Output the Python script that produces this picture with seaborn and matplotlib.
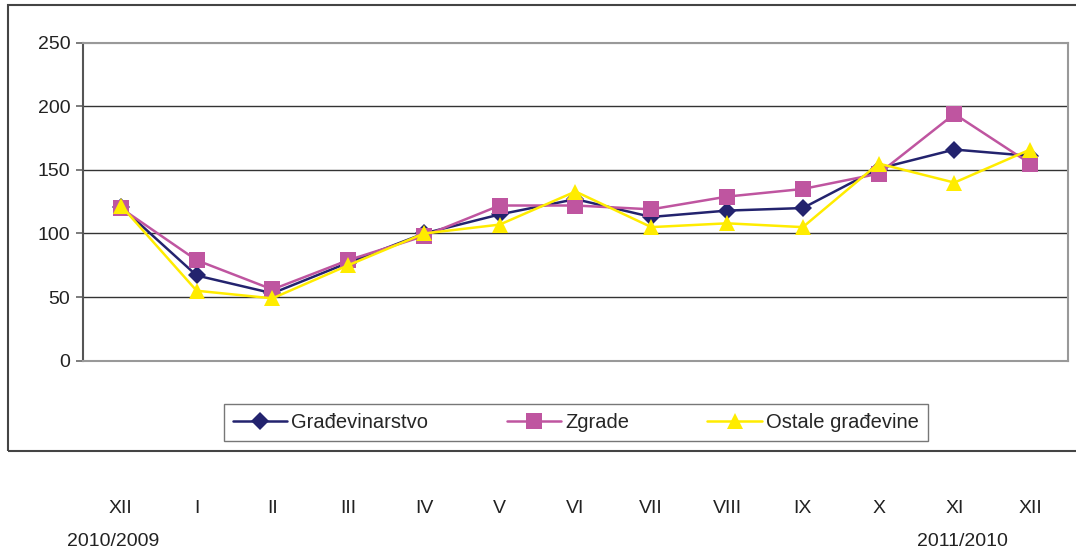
import pandas as pd
import matplotlib.pyplot as plt
from matplotlib.patches import Rectangle
from matplotlib.transforms import blended_transform_factory
import seaborn as sns

mjeseci = ['XII', 'I', 'II', 'III', 'IV', 'V', 'VI', 'VII', 'VIII', 'IX', 'X', 'XI', 'XII']
gradjevinarstvo = [121, 67, 53, 77, 100, 115, 127, 113, 118, 120, 151, 166, 161]
zgrade = [120, 79, 56, 79, 98, 122, 122, 119, 129, 135, 147, 194, 155]
ostale = [122, 55, 49, 75, 100, 107, 133, 105, 108, 105, 155, 140, 166]
serije = ['Građevinarstvo', 'Zgrade', 'Ostale građevine']
godine = ['2010/2009', '2011/2010']

df = pd.DataFrame({'pos': range(len(mjeseci)),
                   serije[0]: gradjevinarstvo,
                   serije[1]: zgrade,
                   serije[2]: ostale})
long = df.melt(id_vars='pos', var_name='serija', value_name='indeks')

sns.set_style('white')
plt.rcParams['font.family'] = ['Liberation Sans', 'DejaVu Sans']

boje = {serije[0]: '#23236e', serije[1]: '#bf55a0', serije[2]: '#ffec00'}
markeri = {serije[0]: 'D', serije[1]: 's', serije[2]: '^'}
velicine = {serije[0]: 9, serije[1]: 11, serije[2]: 12}

fig = plt.figure(figsize=(10.76, 5.51), dpi=100)
ax = fig.add_axes([0.0771, 0.3454, 0.9155, 0.5771])

sns.lineplot(data=long, x='pos', y='indeks', hue='serija', style='serija',
             palette=boje, markers=markeri, dashes=False, linewidth=1.8,
             markersize=10, markeredgewidth=0, ax=ax, legend=False)
for line, s in zip(ax.lines, serije):
    line.set_markersize(velicine[s])

ax.set_xlim(-0.5, len(mjeseci) - 0.5)
ax.set_ylim(0, 250)
ax.set_yticks([0, 50, 100, 150, 200, 250])
ax.set_xticks(range(len(mjeseci)))
ax.set_xticklabels(mjeseci)
ax.set_xlabel('')
ax.set_ylabel('')
ax.tick_params(axis='y', labelsize=14, labelcolor='#222222', length=5,
               color='#666666', width=1.2, direction='out', left=True, pad=4)
ax.tick_params(axis='x', labelsize=14, labelcolor='#222222', length=0, pad=100)

for y in [50, 100, 150, 200]:
    ax.axhline(y, color='#333333', lw=1.0, zorder=0)
ax.axhline(250, color='#888888', lw=1.5, zorder=0)

ax.spines['left'].set_color('#555555')
ax.spines['left'].set_linewidth(1.5)
for s in ['top', 'right', 'bottom']:
    ax.spines[s].set_color('#999999')
    ax.spines[s].set_linewidth(1.5)

tr = blended_transform_factory(ax.transData, ax.transAxes)
ax.text(-0.1, -0.57, godine[0], transform=tr, ha='center', va='center',
        fontsize=14, color='#222222')
ax.text(11.1, -0.57, godine[1], transform=tr, ha='center', va='center',
        fontsize=14, color='#222222')

fig.patches.append(Rectangle((0.007, 0.1815), 1.0, 0.81, transform=fig.transFigure,
                             fill=False, edgecolor='#444444', lw=1.5))

handles = [plt.Line2D([], [], color=boje[s], marker=markeri[s], lw=1.8,
                      markersize=velicine[s], markeredgewidth=0) for s in serije]
leg = fig.legend(handles, serije, loc='center', bbox_to_anchor=(0.535, 0.233),
                 ncol=3, fontsize=14.5, frameon=True, fancybox=False,
                 edgecolor='#555555', handlelength=2.7, columnspacing=3.9,
                 handletextpad=0.2, borderpad=0.45)
leg.get_frame().set_linewidth(1.0)

plt.savefig('out.png', dpi=100)
